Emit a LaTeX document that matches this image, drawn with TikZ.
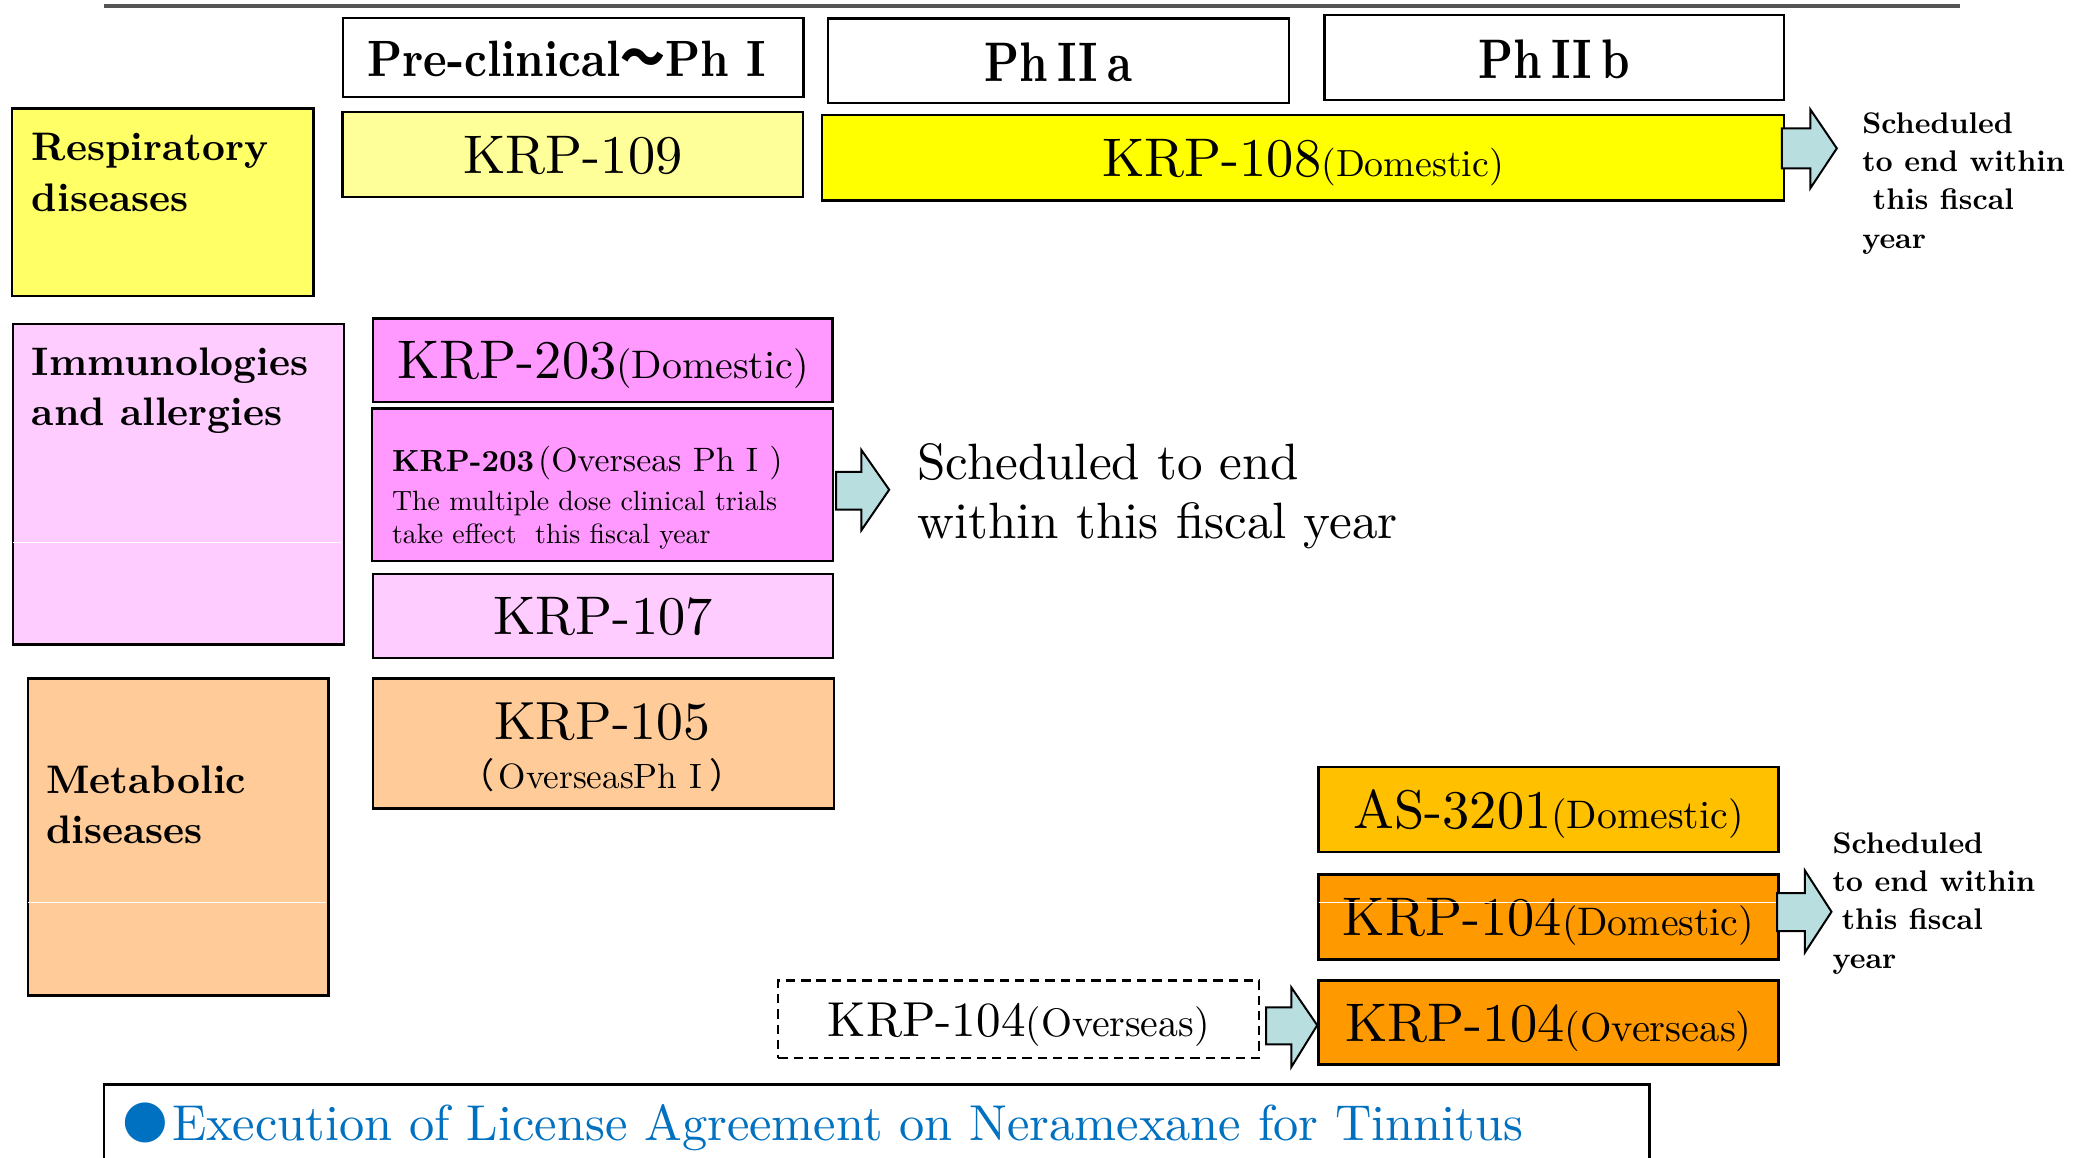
\documentclass[tikz,border=0pt]{standalone}
\usepackage{fontspec}
\usepackage{graphicx}
\setmainfont{lmroman10-regular.otf}[BoldFont=lmroman10-bold.otf,ItalicFont=lmroman10-italic.otf]
\newfontfamily\cjkf{Noto Sans CJK JP}
\newfontfamily\symf{DejaVu Sans}
\newcommand{\setfs}[2]{\fontsize{#1}{#2}\selectfont}
\definecolor{respc}{HTML}{FFFF66}
\definecolor{k109c}{HTML}{FFFF99}
\definecolor{k108c}{HTML}{FFFF00}
\definecolor{immuc}{HTML}{FFCCFF}
\definecolor{k203c}{HTML}{FF99FF}
\definecolor{metac}{HTML}{FFCC99}
\definecolor{asc}{HTML}{FFC000}
\definecolor{k104c}{HTML}{FF9900}
\definecolor{arrowc}{HTML}{B9DEE0}
\definecolor{licblue}{HTML}{0070C0}
\definecolor{linegray}{HTML}{555555}
\begin{document}
\begin{tikzpicture}[x=1pt,y=-1pt,
  box/.style={draw=black,line width=1.8pt,inner sep=0pt,anchor=north west},
  big/.style={text height=28pt,text depth=0pt,font=\setfs{41}{48}},
  hdr/.style={text depth=0pt},
  cat/.style={anchor=north west,inner sep=0pt,align=left,font=\setfs{30}{37.8}\bfseries},
  sched/.style={anchor=north west,inner sep=0pt,align=left,font=\setfs{22.5}{28.7}\bfseries},
  blkarrow/.style={draw=black,line width=1.5pt,fill=arrowc,line join=miter},
  seam/.style={draw=white,line width=0.8pt}
]
\useasboundingbox (0,0) rectangle (1568,872);
\clip (0,0) rectangle (1568,872);
\fill[white] (0,0) rectangle (1568,872);

% top rule
\draw[linegray,line width=3pt] (78,4.5) -- (1477,4.5);

% phase headers
\node[box,hdr,minimum width=347pt,minimum height=59.5pt,text height=28.3pt,font=\setfs{38.5}{40}\bfseries] (hpre) at (257.5,12.6)
  {\hspace*{-10pt}\scalebox{0.876}[1]{Pre-clinical{\cjkf ～}Ph I}};
\node[box,hdr,minimum width=347.2pt,minimum height=63.6pt,text height=31pt,font=\setfs{42}{44}\bfseries] (h2a) at (623.2,13)
  {\scalebox{0.8}[1]{Ph\hspace{9pt}II\hspace{9pt}a}};
\node[box,hdr,minimum width=346.5pt,minimum height=64.1pt,text height=31.5pt,font=\setfs{42}{44}\bfseries] (h2b) at (997,10.5)
  {\scalebox{0.8}[1]{Ph\hspace{9pt}II\hspace{9pt}b}};

% category boxes
\node[box,fill=respc,minimum width=227.1pt,minimum height=141.4pt] (resp) at (8.3,80.9) {};
\node[cat] (resptext) at (23.9,100.5) {Respiratory\\diseases};
\node[box,fill=immuc,minimum width=249.6pt,minimum height=241.6pt] (immu) at (8.7,243.2) {};
\draw[seam] (9.7,408.7) -- (257.3,408.7);
\node[cat] (immutext) at (23.8,261.8) {Immunologies\\and allergies};
\node[box,fill=metac,minimum width=226.2pt,minimum height=238.9pt] (meta) at (20.3,510.4) {};
\draw[seam] (21.3,680) -- (245.5,680);
\node[cat] (metatext) at (34.6,577) {Metabolic\\diseases};

% respiratory row
\node[box,big,fill=k109c,minimum width=347pt,minimum height=64.3pt] (k109) at (257.3,83.4) {KRP-109};
\node[box,big,fill=k108c,minimum width=725.2pt,minimum height=64.3pt] (k108) at (618.3,85.9)
  {KRP-108{\setfs{28.5}{48}(Domestic)}};
\draw[blkarrow] (1342.6,96.7) -- (1364,96.7) -- (1364,82.4) -- (1384,111.8) -- (1364,141.9) -- (1364,126.9) -- (1342.6,126.9) -- cycle;
\node[sched] (sched1) at (1403,84.9) {Scheduled\\to end within\\\hspace*{8pt}this fiscal\\year};

% immunology rows
\node[box,big,fill=k203c,minimum width=346.1pt,minimum height=63.1pt] (k203d) at (280.3,239.1)
  {KRP-203{\setfs{30}{48}(Domestic)}};
\node[box,fill=k203c,minimum width=347pt,minimum height=115pt] (k203o) at (279.6,306.8) {};
\node[anchor=north west,inner sep=0pt,align=left,font=\setfs{21}{25}] (k203otext) at (295.2,336.2)
  {{\setfs{23}{25}\bfseries KRP-203}\hspace{3pt}{\setfs{25.5}{25}(Overseas Ph I )}\\[4pt]
   The multiple dose clinical trials\\
   take effect\ \ this fiscal year};
\draw[blkarrow] (630,355.5) -- (649,355.5) -- (649,339) -- (670,369) -- (649,399.6) -- (649,384) -- (630,384) -- cycle;
\node[anchor=north west,inner sep=0pt,align=left,font=\setfs{38.5}{44}] (sched2) at (691,334.3)
  {Scheduled to end\\within this fiscal year};
\node[box,big,fill=immuc,minimum width=346.5pt,minimum height=63.3pt] (k107) at (280.3,431.5) {KRP-107};

% metabolic rows
\node[box,fill=metac,minimum width=347pt,minimum height=98pt] (k105) at (280.3,510.4) {};
\node[anchor=north,inner sep=0pt,align=center,font=\setfs{40.5}{36.8}] (k105text) at (453.8,529.5)
  {KRP-105\\{\setfs{26.5}{36.8}{\cjkf （}\hspace{3pt}OverseasPh I\hspace{6pt}{\cjkf ）}}};
\node[box,big,fill=asc,minimum width=346.7pt,minimum height=64pt] (as) at (992.5,577)
  {AS-3201{\setfs{30}{48}(Domestic)}};
\node[box,big,fill=k104c,minimum width=346.7pt,minimum height=64.1pt] (k104d) at (992.5,658.1)
  {KRP-104{\setfs{30}{48}(Domestic)}};
\draw[seam] (993.5,680) -- (1338.2,680);
\node[box,big,fill=k104c,minimum width=346.7pt,minimum height=63.3pt] (k104o) at (992.5,738)
  {KRP-104{\setfs{30.5}{48}(Overseas)}};
\node[box,draw=black,line width=1.6pt,dash pattern=on 7pt off 4.5pt,fill=white,minimum width=362.4pt,minimum height=58.5pt,
      text height=25.5pt,text depth=0pt,font=\setfs{37}{44}] (d104) at (585.6,738)
  {KRP-104{\setfs{30}{44}(Overseas)}};
\draw[blkarrow] (954,759) -- (973,759) -- (973,744) -- (992.5,772.5) -- (973,804) -- (973,787) -- (954,787) -- cycle;
\draw[blkarrow] (1339,673) -- (1360,673) -- (1360,656) -- (1380,687) -- (1360,717.6) -- (1360,701.6) -- (1339,701.6) -- cycle;
\node[sched] (sched3) at (1380.6,627.4) {Scheduled\\to end within\\\hspace*{7pt}this fiscal\\year};

% licence box
\node[box,line width=2pt,fill=white,minimum width=1164.6pt,minimum height=100pt] (lic) at (77.4,815.9) {};
\node[inner sep=0pt,text=licblue,font=\symf\setfs{39.5}{40}] (bul) at (109.3,846.3) {●};
\node[anchor=base west,inner sep=0pt,text=licblue,font=\setfs{38}{40}] (lictext) at (129.4,859.6)
  {Execution of License Agreement on Neramexane for Tinnitus};
\end{tikzpicture}
\end{document}
